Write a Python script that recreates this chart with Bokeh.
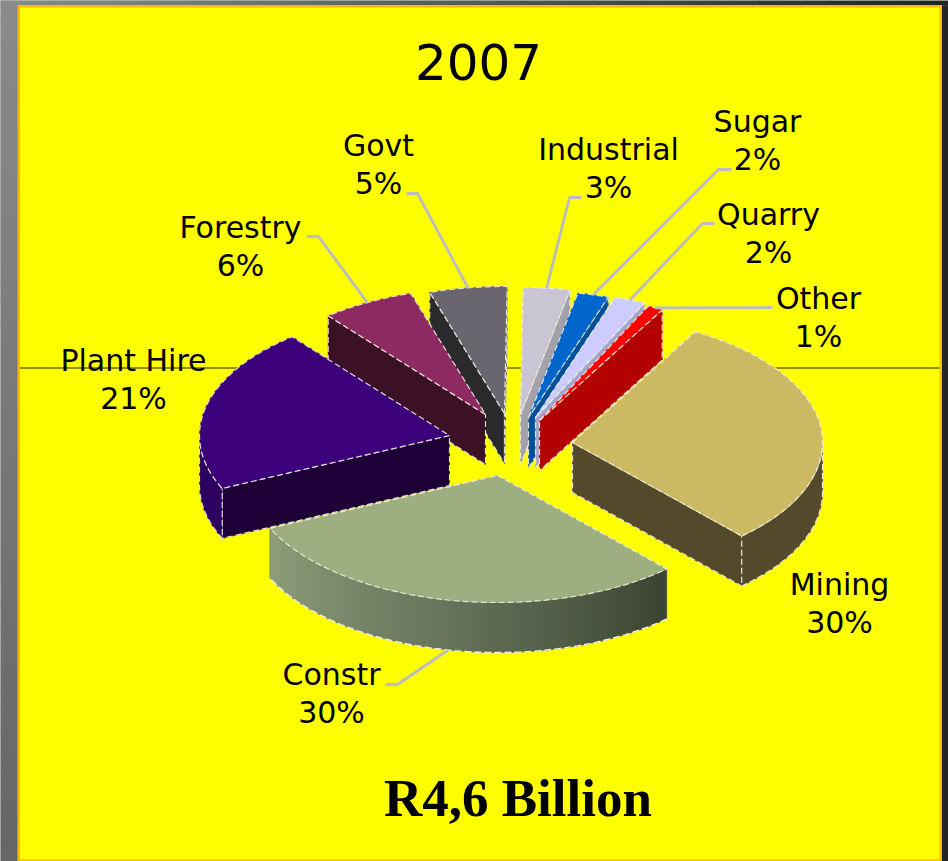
import math

from bokeh.core.properties import value
from bokeh.embed import file_html
from bokeh.models import Range1d
from bokeh.plotting import figure
from bokeh.resources import INLINE

# Sector shares of the 2007 total, percent, clockwise from the Mining slice
categories = ["Mining", "Constr", "Plant Hire", "Forestry", "Govt",
              "Industrial", "Sugar", "Quarry", "Other"]
shares = [30, 30, 21, 6, 5, 3, 2, 2, 1]

title_text = "2007"
total_text = "R4,6 Billion"

# Pie projection: ellipse radii, extrusion depth, clockwise start from north
RX, RY, DEPTH, START = 250, 127, 50, 29.4

# Per-slice styling and exploded apex, in canvas pixels
apex = {"Mining": (572, 442), "Constr": (497, 475), "Plant Hire": (449, 435),
        "Forestry": (485, 414), "Govt": (504, 413), "Industrial": (520, 414),
        "Sugar": (528, 417), "Quarry": (535, 417), "Other": (539, 420)}
top_color = {"Mining": "#CCB964", "Constr": "#9DAE80", "Plant Hire": "#3B007A",
             "Forestry": "#8E2A62", "Govt": "#696670", "Industrial": "#C9C5D2",
             "Sugar": "#0066CC", "Quarry": "#CCCCFF", "Other": "#FF0000"}
cut_color = {"Mining": "#54492A", "Constr": "#3B4433", "Plant Hire": "#1D0035",
             "Forestry": "#3C1025", "Govt": "#2A2A2D", "Industrial": "#A3A1AC",
             "Sugar": "#004F99", "Quarry": "#A5A5CC", "Other": "#B30000"}
rim_color = {"Mining": "#54492A", "Plant Hire": "#2D0060"}
draw_order = ["Govt", "Industrial", "Sugar", "Quarry", "Other",
              "Forestry", "Plant Hire", "Mining", "Constr"]

# Label anchors (centre x, first-line y) and leader elbows
label_pos = {"Mining": (839, 584), "Constr": (331, 674), "Plant Hire": (133, 360),
             "Forestry": (240, 227), "Govt": (378, 145), "Industrial": (608, 149),
             "Sugar": (757, 121), "Quarry": (768, 214), "Other": (818, 298)}
leader_run = {"Constr": [(385, 684), (397, 684)], "Forestry": [(306, 236), (318, 236)],
              "Govt": [(406, 193), (417, 193)], "Industrial": [(581, 197), (569, 197)],
              "Sugar": [(731, 169), (718, 169)], "Quarry": [(714, 223), (702, 223)],
              "Other": [(772, 307)]}

LEADER = "#BBBBC2"
EDGE = "#EFEFE2"
SANS = value("DejaVu Sans")

p = figure(width=948, height=861, output_backend="svg", toolbar_location=None,
           x_range=Range1d(0, 948), y_range=Range1d(861, 0), min_border=0,
           outline_line_color=None, background_fill_color="#777777",
           border_fill_color="#777777")
p.axis.visible = False
p.grid.visible = False


def mix(a, b, t):
    ca = [int(a[i:i + 2], 16) for i in (1, 3, 5)]
    cb = [int(b[i:i + 2], 16) for i in (1, 3, 5)]
    return "#%02X%02X%02X" % tuple(round(x + (y - x) * t) for x, y in zip(ca, cb))


# Slide frame: shaded strips round the yellow panel
STEPS = 40
for i in range(STEPS):
    t = i / (STEPS - 1)
    x0, x1 = 948 * i / STEPS, 948 * (i + 1) / STEPS
    p.quad(left=x0, right=x1 + 1, top=0, bottom=5, fill_color=mix("#8A8A8A", "#242424", t), line_color=None)
    y0, y1 = 861 * i / STEPS, 861 * (i + 1) / STEPS
    p.quad(left=0, right=17, top=y0, bottom=y1 + 1, fill_color=mix("#8A8A8A", "#666666", t), line_color=None)
p.quad(left=941, right=948, top=5, bottom=861, fill_color="#242424", line_color=None)
p.quad(left=17, right=941.5, top=4.5, bottom=861, fill_color="#FFB900", line_color=None)
p.quad(left=19.5, right=939, top=7, bottom=859, fill_color="#FFFF00", line_color=None)
p.line([19.5, 939], [367.5, 367.5], line_color="#222200", line_width=1)


def arc_point(name, angle, drop=0.0):
    ax, ay = apex[name]
    rad = math.radians(angle)
    return ax + RX * math.sin(rad), ay - RY * math.cos(rad) + drop


def arc_points(name, a0, a1, drop=0.0):
    n = max(2, int(abs(a1 - a0) / 1.5) + 1)
    return [arc_point(name, a0 + (a1 - a0) * k / (n - 1), drop) for k in range(n)]


def face(points, color, edge=True):
    xs, ys = zip(*points)
    p.patch(list(xs), list(ys), fill_color=color, line_color=color, line_width=0.6)
    if edge:
        p.line(list(xs) + [xs[0]], list(ys) + [ys[0]], line_color=EDGE,
               line_width=1.2, line_dash="6 3", line_alpha=0.9)


# Cumulative angular extents derived from the shares
total = sum(shares)
extent = {}
cursor = START
for name, share in zip(categories, shares):
    sweep = share / total * 360
    extent[name] = (cursor, cursor + sweep)
    cursor += sweep

RIM_STEP = 1.5
for name in draw_order:
    a0, a1 = extent[name]
    ax, ay = apex[name]

    # Radial walls turned towards the viewer
    walls = []
    if math.sin(math.radians(a0)) < 0:
        walls.append(a0)
    if math.sin(math.radians(a1)) > 0:
        walls.append(a1)
    for wall in walls:
        ex, ey = arc_point(name, wall)
        face([(ax, ay), (ex, ey), (ex, ey + DEPTH), (ax, ay + DEPTH)], cut_color[name])

    # Outer rim on the front half of the ellipse
    r0, r1 = max(a0, 90), min(a1, 270)
    if r1 > r0:
        if name == "Constr":
            n = int((r1 - r0) / RIM_STEP)
            for k in range(n):
                s0 = r0 + (r1 - r0) * k / n
                s1 = r0 + (r1 - r0) * (k + 1) / n + 0.3
                t = (k + 0.5) / n
                shade = mix("#3B4433", "#66745A", t * 2) if t < 0.5 else mix("#66745A", "#8E9E7A", t * 2 - 1)
                strip = arc_points(name, s0, s1) + arc_points(name, s1, s0, DEPTH)
                face(strip, shade, edge=False)
            lower = arc_points(name, r0, r1, DEPTH)
            p.line([q[0] for q in lower], [q[1] for q in lower], line_color=EDGE,
                   line_width=1.4, line_dash="7 3")
        else:
            face(arc_points(name, r0, r1) + arc_points(name, r1, r0, DEPTH), rim_color[name])

    # Top surface
    face([(ax, ay)] + arc_points(name, a0, a1), top_color[name])

# Leader lines run from the slice rim to the label
for name, run in leader_run.items():
    a0, a1 = extent[name]
    mid = (a0 + a1) / 2
    drop = DEPTH if math.cos(math.radians(mid)) < 0 else 0
    pts = run + [arc_point(name, mid, drop)]
    p.line([q[0] for q in pts], [q[1] for q in pts], line_color=LEADER, line_width=2.8)

# Two-line labels: category name and its share
for name, share in zip(categories, shares):
    x, y = label_pos[name]
    p.text([x], [y], text=[name], text_font=SANS, text_font_size="30px", text_color="#000000",
           text_align="center", text_baseline="middle")
    p.text([x], [y + 38], text=[f"{share}%"], text_font=SANS, text_font_size="30px",
           text_color="#000000", text_align="center", text_baseline="middle")

p.text([478], [61], text=[title_text], text_font=SANS, text_font_size="50px", text_color="#000000",
       text_align="center", text_baseline="middle")
p.text([517.5], [797], text=[total_text], text_font=value("Liberation Serif"), text_font_size="53px",
       text_font_style="bold", text_color="#000000", text_align="center", text_baseline="middle")

open("out.html", "w").write(file_html(p, INLINE))
